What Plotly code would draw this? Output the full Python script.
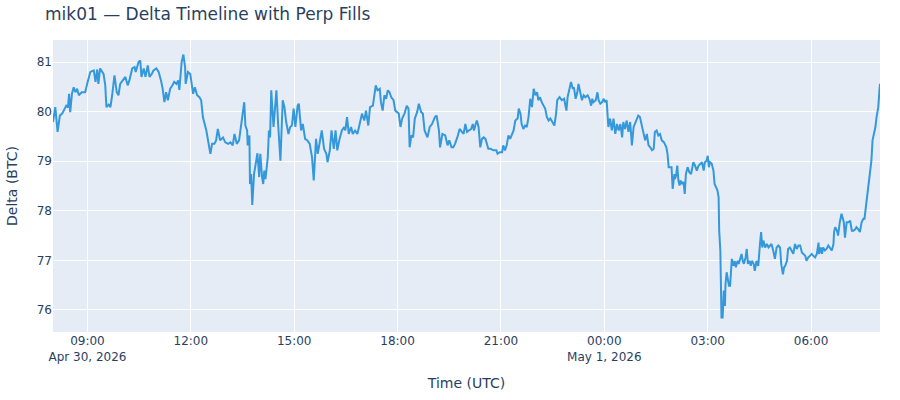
import pandas as pd
import plotly.graph_objects as go

# minutes after 2026-04-30 08:00 UTC
minutes = [
    0, 4, 8, 12, 16, 19, 23, 26, 28, 30, 33, 36, 39, 42, 45, 50, 56, 61, 65, 71,
    74, 77, 79, 82, 88, 91, 93, 97, 100, 103, 107, 111, 114, 117, 122, 126, 130, 133, 138, 142,
    144, 149, 152, 154, 158, 161, 165, 168, 172, 175, 180, 184, 188, 191, 194, 197, 200, 204, 208, 211,
    215, 218, 220, 224, 227, 230, 231, 235, 239, 242, 244, 247, 251, 255, 258, 261, 264, 267, 271, 274,
    277, 281, 284, 287, 291, 296, 300, 305, 309, 313, 316, 320, 324, 329, 333, 335, 338, 339, 342, 343,
    345, 347, 350, 353, 356, 359, 361, 364, 366, 368, 370, 374, 376, 378, 380, 384, 389, 392, 396, 400,
    403, 406, 410, 413, 416, 419, 422, 426, 428, 432, 435, 439, 443, 447, 451, 454, 458, 461, 464, 468,
    472, 476, 478, 482, 485, 489, 492, 495, 499, 503, 507, 509, 512, 515, 519, 522, 526, 530, 534, 538,
    542, 545, 549, 552, 557, 562, 565, 569, 571, 574, 577, 580, 583, 586, 589, 593, 596, 602, 605, 608,
    612, 616, 619, 621, 624, 627, 630, 634, 637, 641, 644, 647, 652, 656, 660, 665, 668, 672, 674, 678,
    683, 687, 690, 694, 697, 700, 704, 708, 712, 715, 718, 721, 724, 728, 731, 733, 736, 738, 741, 744,
    747, 750, 753, 755, 758, 762, 767, 772, 774, 778, 782, 784, 787, 790, 793, 796, 799, 802, 805, 809,
    811, 814, 816, 819, 822, 825, 828, 831, 834, 837, 840, 843, 845, 848, 851, 854, 857, 860, 863, 866,
    869, 873, 876, 878, 882, 886, 890, 894, 896, 899, 902, 905, 907, 910, 913, 915, 918, 921, 924, 927,
    931, 934, 937, 939, 941, 945, 948, 950, 953, 956, 959, 961, 964, 967, 970, 973, 976, 979, 982, 985,
    988, 991, 993, 996, 999, 1002, 1005, 1008, 1011, 1014, 1017, 1019, 1022, 1025, 1028, 1031, 1034, 1037, 1040, 1043,
    1046, 1048, 1051, 1054, 1057, 1060, 1064, 1068, 1070, 1072, 1075, 1077, 1079, 1082, 1083, 1085, 1087, 1089, 1091, 1093,
    1095, 1098, 1100, 1102, 1105, 1108, 1111, 1113, 1115, 1118, 1121, 1124, 1127, 1130, 1133, 1135, 1138, 1140, 1142, 1144,
    1147, 1150, 1152, 1155, 1157, 1159, 1160, 1162, 1163, 1164, 1166, 1168, 1170, 1171, 1173, 1175, 1177, 1179, 1181, 1182,
    1185, 1187, 1189, 1192, 1194, 1196, 1199, 1201, 1203, 1206, 1208, 1210, 1213, 1215, 1217, 1220, 1222, 1225, 1228, 1231,
    1233, 1235, 1237, 1240, 1243, 1246, 1249, 1251, 1254, 1257, 1260, 1263, 1266, 1268, 1271, 1273, 1275, 1278, 1280, 1283,
    1286, 1289, 1292, 1295, 1298, 1301, 1304, 1307, 1310, 1312, 1315, 1318, 1321, 1324, 1327, 1330, 1333, 1334, 1337, 1339,
    1341, 1344, 1347, 1350, 1353, 1356, 1359, 1360, 1362, 1365, 1367, 1369, 1370, 1373, 1375, 1377, 1379, 1382, 1385, 1388,
    1391, 1394, 1397, 1399, 1402, 1405, 1408, 1411, 1413, 1416, 1418, 1420, 1423, 1425, 1427, 1430, 1432, 1434, 1437, 1439,
    1440,
]

delta_btc = [
    79.79, 80.09, 79.59, 79.92, 79.96, 80.02, 80.12, 80.08, 80.36, 79.99, 80.36, 80.49, 80.39, 80.46, 80.33, 80.39, 80.39, 80.63, 80.80, 80.83,
    80.60, 80.85, 80.56, 80.87, 80.76, 80.53, 80.09, 80.14, 80.09, 80.33, 80.73, 80.39, 80.33, 80.56, 80.63, 80.70, 80.53, 80.63, 80.87, 80.90,
    80.80, 81.00, 81.03, 80.70, 80.87, 80.70, 80.93, 80.70, 80.76, 80.83, 80.87, 80.80, 80.63, 80.46, 80.19, 80.39, 80.23, 80.46, 80.53, 80.60,
    80.56, 80.63, 80.44, 81.00, 81.15, 80.90, 80.56, 80.80, 80.76, 80.56, 80.36, 80.49, 80.33, 80.29, 80.23, 79.89, 79.75, 79.62, 79.35, 79.15,
    79.35, 79.35, 79.42, 79.65, 79.42, 79.48, 79.38, 79.35, 79.38, 79.32, 79.55, 79.35, 79.42, 79.86, 80.19, 79.72, 79.62, 79.32, 79.52, 78.54,
    78.74, 78.12, 78.74, 78.95, 79.16, 78.68, 79.15, 78.68, 78.54, 78.81, 78.64, 79.08, 79.62, 79.48, 80.43, 79.69, 80.43, 79.75, 79.01, 80.23,
    80.09, 79.79, 79.55, 79.69, 79.72, 80.06, 79.69, 80.12, 80.16, 79.62, 79.75, 79.45, 79.42, 79.35, 79.08, 78.61, 79.45, 79.15, 79.35, 79.62,
    79.25, 79.15, 78.98, 79.22, 79.62, 79.25, 79.62, 79.22, 79.45, 79.62, 79.69, 79.62, 79.89, 79.55, 79.69, 79.55, 79.62, 79.55, 79.75, 79.96,
    79.82, 80.02, 79.72, 80.09, 80.12, 80.53, 80.43, 80.46, 80.19, 80.02, 80.33, 80.26, 80.43, 80.39, 80.29, 80.23, 80.02, 79.96, 79.69, 79.86,
    79.96, 80.12, 80.06, 79.28, 79.52, 79.48, 79.86, 79.99, 80.16, 79.99, 79.96, 79.62, 79.48, 79.69, 79.75, 79.89, 79.92, 79.62, 79.28, 79.55,
    79.52, 79.32, 79.42, 79.28, 79.28, 79.35, 79.48, 79.65, 79.59, 79.55, 79.75, 79.59, 79.62, 79.65, 79.75, 79.62, 79.75, 79.82, 79.69, 79.28,
    79.45, 79.48, 79.45, 79.35, 79.25, 79.25, 79.22, 79.22, 79.15, 79.18, 79.18, 79.32, 79.22, 79.32, 79.52, 79.45, 79.55, 79.62, 79.82, 79.86,
    80.06, 79.96, 79.75, 79.65, 79.72, 79.69, 79.89, 80.26, 80.09, 80.46, 80.33, 80.39, 80.23, 80.29, 80.19, 80.12, 80.06, 79.89, 79.82, 79.86,
    79.79, 79.72, 79.96, 80.23, 80.29, 80.23, 80.26, 80.02, 80.29, 80.43, 80.60, 80.46, 80.49, 80.26, 80.39, 80.56, 80.36, 80.23, 80.33, 80.29,
    80.33, 80.26, 80.12, 80.26, 80.19, 80.23, 80.39, 80.23, 80.16, 80.19, 80.26, 80.19, 80.23, 79.69, 79.86, 79.62, 79.86, 79.55, 79.75, 79.62,
    79.75, 79.48, 79.79, 79.65, 79.82, 79.59, 79.79, 79.32, 79.69, 79.79, 79.86, 79.92, 79.89, 79.72, 79.62, 79.42, 79.55, 79.32, 79.28, 79.22,
    79.25, 79.59, 79.62, 79.52, 79.55, 79.42, 79.38, 79.28, 79.15, 78.88, 78.88, 78.88, 78.44, 78.74, 78.64, 78.71, 78.91, 78.61, 78.51, 78.61,
    78.54, 78.58, 78.34, 78.74, 78.88, 78.78, 78.74, 78.88, 78.98, 78.91, 78.81, 78.91, 78.95, 78.98, 78.81, 78.98, 79.01, 79.11, 78.88, 78.98,
    78.95, 78.81, 78.54, 78.47, 78.41, 78.27, 77.60, 77.20, 76.39, 75.85, 75.85, 76.39, 76.08, 76.52, 76.76, 76.62, 76.49, 76.49, 76.93, 77.03,
    76.89, 76.99, 76.86, 76.99, 76.93, 77.03, 77.13, 76.99, 76.93, 77.06, 77.23, 76.93, 76.99, 76.89, 76.99, 76.93, 76.79, 76.99, 76.89, 77.33,
    77.57, 77.26, 77.40, 77.26, 77.33, 77.26, 77.30, 77.33, 77.20, 77.03, 77.26, 77.30, 77.26, 76.93, 76.72, 76.86, 76.89, 76.99, 77.23, 77.26,
    77.20, 77.13, 77.33, 77.23, 77.30, 77.30, 77.16, 77.13, 77.09, 76.99, 77.06, 77.09, 77.13, 77.09, 77.06, 77.13, 77.36, 77.13, 77.26, 77.13,
    77.26, 77.20, 77.23, 77.30, 77.26, 77.20, 77.33, 77.57, 77.67, 77.60, 77.50, 77.70, 77.77, 77.94, 77.84, 77.77, 77.46, 77.77, 77.77, 77.80,
    77.60, 77.60, 77.63, 77.67, 77.63, 77.57, 77.77, 77.84, 77.84, 78.14, 78.21, 78.41, 78.81, 79.01, 79.42, 79.59, 79.69, 79.89, 80.09, 80.43,
    80.56,
]

start = pd.Timestamp("2026-04-30 08:00:00")
times = start + pd.to_timedelta(minutes, unit="min")

fig = go.Figure()
fig.add_trace(go.Scatter(x=times, y=delta_btc, mode="lines",
                         line=dict(color="#3498db", width=2), name="Delta"))

fig.update_layout(
    title="mik01 — Delta Timeline with Perp Fills",
    xaxis_title="Time (UTC)",
    yaxis_title="Delta (BTC)",
    width=900, height=400,
    margin=dict(l=53, r=20, t=40, b=68),
    font=dict(family="Verdana, DejaVu Sans, sans-serif"),
    showlegend=False,
)

# page body has a default 8px margin; drop it so the figure sits at 0,0
fig.write_html("out.html", config={"displayModeBar": False},
               post_script="document.body.style.margin='0';")
